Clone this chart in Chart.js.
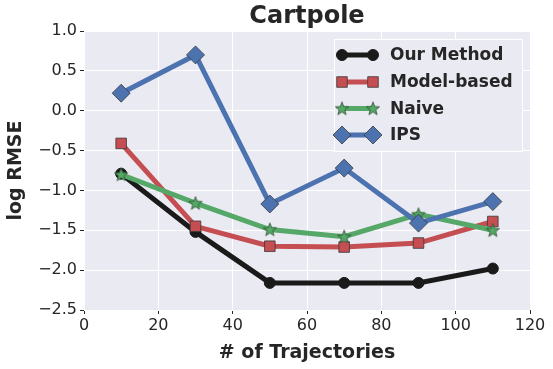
<!DOCTYPE html>
<html>
<head>
<meta charset="utf-8">
<script src="https://cdn.jsdelivr.net/npm/chart.js@4.4.1/dist/chart.umd.min.js"></script>
<style>
  html, body { margin: 0; padding: 0; background: #fff; }
  #wrap { width: 553px; height: 369px; }
</style>
</head>
<body>
<div id="wrap"><canvas id="chart" width="553" height="369"></canvas></div>
<script>
// number of trajectories
const trajectories = [10, 30, 50, 70, 90, 110];

// log RMSE per method
const ourMethod  = [-0.79, -1.52, -2.16, -2.16, -2.16, -1.98];
const modelBased = [-0.41, -1.45, -1.70, -1.71, -1.66, -1.39];
const naive      = [-0.80, -1.16, -1.49, -1.58, -1.30, -1.50];
const ips        = [0.22, 0.70, -1.17, -0.72, -1.41, -1.14];

const seriesNames = ["Our Method", "Model-based", "Naive", "IPS"];

const INK = "#262626";
const EDGE = "#3a3a3a";

// filled five point star for the "Naive" markers
function makeStar(r, fill) {
    const c = document.createElement("canvas");
    const s = Math.ceil(r * 2 + 2);
    c.width = s; c.height = s;
    const g = c.getContext("2d");
    g.beginPath();
    for (let i = 0; i < 10; i++) {
        const rad = i % 2 === 0 ? r : r * 0.42;
        const a = -Math.PI / 2 + i * Math.PI / 5;
        const px = s / 2 + rad * Math.cos(a);
        const py = s / 2 + 0.5 + rad * Math.sin(a);
        if (i === 0) g.moveTo(px, py); else g.lineTo(px, py);
    }
    g.closePath();
    g.fillStyle = fill;
    g.fill();
    g.lineWidth = 0.8;
    g.strokeStyle = "#2f4f2f";
    g.stroke();
    return c;
}
const starImg = makeStar(7, "#55A868");

function pts(ys) {
    return trajectories.map((x, i) => ({ x: x, y: ys[i] }));
}

// plot background + title centred over the plot
const bgPlugin = {
    id: "bg",
    beforeDraw(chart) {
        const a = chart.chartArea;
        const ctx = chart.ctx;
        ctx.save();
        ctx.fillStyle = "#EAEAF2";
        ctx.fillRect(a.left, a.top, a.right - a.left, a.bottom - a.top);
        ctx.fillStyle = INK;
        ctx.font = "bold 24px 'DejaVu Sans'";
        ctx.textAlign = "center";
        ctx.textBaseline = "middle";
        ctx.fillText("Cartpole", (a.left + a.right) / 2, 17);
        ctx.restore();
    }
};

// legend in the top right corner of the plot
const legendPlugin = {
    id: "innerLegend",
    afterDraw(chart) {
        const ctx = chart.ctx;
        const x0 = 334, y0 = 39, w = 188, h = 112;
        ctx.save();
        ctx.fillStyle = "#EAEAF2";
        ctx.fillRect(x0, y0, w, h);
        ctx.strokeStyle = "#ffffff";
        ctx.lineWidth = 1;
        ctx.strokeRect(x0 + 0.5, y0 + 0.5, w, h);

        const rows = [55, 82, 108.5, 135];
        chart.data.datasets.forEach((ds, i) => {
            const y = rows[i];
            const xa = 342, xb = 373;
            ctx.strokeStyle = ds.borderColor;
            ctx.lineWidth = ds.borderWidth;
            ctx.beginPath();
            ctx.moveTo(xa, y);
            ctx.lineTo(xb, y);
            ctx.stroke();
            [xa, xb].forEach(px => {
                if (ds.pointStyle instanceof HTMLCanvasElement) {
                    const im = ds.pointStyle;
                    ctx.drawImage(im, px - im.width / 2, y - im.height / 2);
                } else {
                    ctx.fillStyle = ds.pointBackgroundColor;
                    ctx.strokeStyle = ds.pointBorderColor;
                    ctx.lineWidth = ds.pointBorderWidth;
                    Chart.helpers.drawPoint(ctx, {
                        pointStyle: ds.pointStyle,
                        radius: ds.pointRadius,
                        rotation: 0,
                        borderWidth: ds.pointBorderWidth
                    }, px, y);
                }
            });
            ctx.fillStyle = INK;
            ctx.font = "bold 17px 'DejaVu Sans'";
            ctx.textBaseline = "middle";
            ctx.textAlign = "left";
            ctx.fillText(ds.label, 390, y + 1);
        });
        ctx.restore();
    }
};

const ctx = document.getElementById("chart");

new Chart(ctx, {
    type: "line",
    data: {
        datasets: [
            {
                label: seriesNames[0],
                data: pts(ourMethod),
                borderColor: "#1a1a1a",
                borderWidth: 5,
                pointStyle: "circle",
                pointRadius: 5.5,
                pointBackgroundColor: "#1a1a1a",
                pointBorderColor: "#1a1a1a",
                pointBorderWidth: 1,
                order: 4
            },
            {
                label: seriesNames[1],
                data: pts(modelBased),
                borderColor: "#C44E52",
                borderWidth: 5,
                pointStyle: "rect",
                pointRadius: 7.5,
                pointBackgroundColor: "#C44E52",
                pointBorderColor: EDGE,
                pointBorderWidth: 0.8,
                order: 3
            },
            {
                label: seriesNames[2],
                data: pts(naive),
                borderColor: "#55A868",
                borderWidth: 5,
                pointStyle: starImg,
                pointRadius: 7,
                pointBackgroundColor: "#55A868",
                pointBorderColor: EDGE,
                pointBorderWidth: 0.8,
                order: 2
            },
            {
                label: seriesNames[3],
                data: pts(ips),
                borderColor: "#4C72B0",
                borderWidth: 5,
                pointStyle: "rectRot",
                pointRadius: 9,
                pointBackgroundColor: "#4C72B0",
                pointBorderColor: EDGE,
                pointBorderWidth: 0.8,
                order: 1
            }
        ]
    },
    options: {
        responsive: false,
        animation: false,
        devicePixelRatio: 1,
        layout: { padding: { left: 0, right: 23, top: 31, bottom: 0 } },
        plugins: {
            legend: { display: false },
            tooltip: { enabled: false },
            title: { display: false }
        },
        scales: {
            x: {
                type: "linear",
                min: 0,
                max: 120,
                ticks: {
                    stepSize: 20,
                    color: INK,
                    padding: 2,
                    maxRotation: 0,
                    font: { family: "DejaVu Sans", size: 16 }
                },
                grid: { color: "#ffffff", lineWidth: 1, tickLength: 4, tickColor: INK },
                border: { display: false },
                title: {
                    display: true,
                    text: "# of Trajectories",
                    color: INK,
                    font: { family: "DejaVu Sans", size: 19, weight: "bold" },
                    padding: { top: 5, bottom: 5 }
                },
                afterFit(s) { s.height = 59; }
            },
            y: {
                min: -2.5,
                max: 1.0,
                ticks: {
                    stepSize: 0.5,
                    color: INK,
                    padding: 3,
                    font: { family: "DejaVu Sans", size: 16 },
                    callback: v => v.toFixed(1).replace("-", "\u2212")
                },
                grid: { color: "#ffffff", lineWidth: 1, tickLength: 4, tickColor: INK },
                border: { display: false },
                title: {
                    display: true,
                    text: "log RMSE",
                    color: INK,
                    font: { family: "DejaVu Sans", size: 19, weight: "bold" },
                    padding: { top: 5, bottom: 0 }
                },
                afterFit(s) { s.width = 84; }
            }
        }
    }
    ,
    plugins: [bgPlugin, legendPlugin]
});
</script>
</body>
</html>
